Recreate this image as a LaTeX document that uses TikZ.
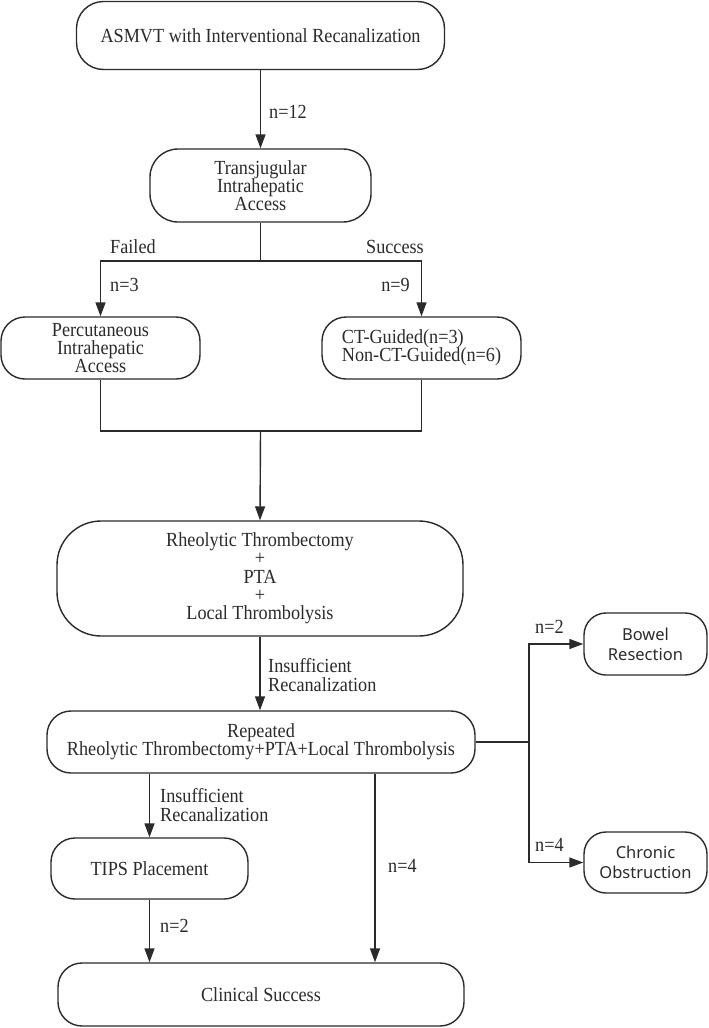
\documentclass[tikz,border=0pt]{standalone}
\usepackage{fontspec}
\setmainfont{Liberation Serif}[FakeStretch=0.91]
\newfontfamily\boxsans{Noto Sans}
\usetikzlibrary{arrows.meta}
\definecolor{ink}{HTML}{2B2B2B}
\begin{document}
\begin{tikzpicture}[x=1pt,y=-1pt,
  every node/.style={text=ink},
  box/.style={draw=ink,line width=1.4pt,align=center,inner sep=0pt,
    font=\fontsize{20}{18.3}\selectfont,rounded corners=24pt},
  sbox/.style={box,font=\boxsans\fontsize{16.5}{20}\selectfont,rounded corners=22pt},
  lbl/.style={inner sep=0pt,font=\fontsize{20}{18.3}\selectfont,align=left},
  ln/.style={draw=ink,line width=1.4pt},
  arr/.style={ln,-{Triangle[length=14pt,width=10pt]}}]
\useasboundingbox (0,0) rectangle (709,1028);
\fill[white] (0,0) rectangle (709,1028);
% nodes
\node[box,minimum width=368pt,minimum height=68pt,rounded corners=27pt] (top) at (260.5,35.5) {ASMVT with Interventional Recanalization};
\node[box,minimum width=221pt,minimum height=73pt,rounded corners=28pt] (tj) at (260.5,185.5) {Transjugular\\Intrahepatic\\Access};
\node[box,minimum width=199pt,minimum height=62pt] (perc) at (100.5,348) {Percutaneous\\Intrahepatic\\Access};
\node[box,minimum width=199pt,minimum height=62pt,align=left] (ct) at (421.5,348) {CT-Guided(n=3)\\Non-CT-Guided(n=6)};
\node[box,minimum width=406pt,minimum height=115pt,rounded corners=44pt] (rheo) at (260,578.5) {Rheolytic Thrombectomy\\+\\PTA\\+\\Local Thrombolysis};
\node[box,minimum width=428pt,minimum height=62pt] (rep) at (261,742) {Repeated\\Rheolytic Thrombectomy+PTA+Local Thrombolysis};
\node[sbox,minimum width=123pt,minimum height=62pt] (bowel) at (645.5,644) {Bowel\\Resection};
\node[sbox,minimum width=123pt,minimum height=61pt] (chron) at (645.5,862.5) {Chronic\\Obstruction};
\node[box,minimum width=197pt,minimum height=61pt] (tips) at (149.5,868.5) {TIPS Placement};
\node[box,minimum width=406pt,minimum height=63pt] (clin) at (261,994.5) {Clinical Success};
% junctions
\coordinate (j1) at (260.5,261);
\coordinate (j2) at (260.5,431);
\coordinate (j3) at (529,742);
\coordinate (j4) at (375,0);
% connectors
\draw[arr] (top.south) -- (tj.north);
\draw[ln] (tj.south) -- (j1);
\draw[arr] (j1) -| (perc.north);
\draw[arr] (j1) -| (ct.north);
\draw[ln] (perc.south) |- (j2);
\draw[ln] (ct.south) |- (j2);
\draw[arr] (j2) -- (rheo.north);
\draw[arr] (rheo.south) -- (rheo.south |- rep.north);
\draw[ln] (rep.east) -- (j3);
\draw[arr] (j3) |- (bowel.west);
\draw[arr] (j3) |- (chron.west);
\draw[arr] (rep.south -| tips.north) -- (tips.north);
\draw[arr] (tips.south) -- (clin.north -| tips.south);
\draw[arr] (rep.south -| j4) -- (clin.north -| j4);
% labels
\node[lbl,anchor=west] (l1) at (269,112) {n=12};
\node[lbl,anchor=west] (l2) at (110,247) {Failed};
\node[lbl,anchor=east] (l3) at (424,247) {Success};
\node[lbl,anchor=west] (l4) at (110,285) {n=3};
\node[lbl,anchor=east] (l5) at (410,285) {n=9};
\node[lbl,anchor=west] (l6) at (268,675) {Insufficient\\Recanalization};
\node[lbl,anchor=west] (l7) at (160,805) {Insufficient\\Recanalization};
\node[lbl,anchor=west] (l8) at (388,866) {n=4};
\node[lbl,anchor=west] (l9) at (160,926) {n=2};
\node[lbl,anchor=west] (l10) at (535,627) {n=2};
\node[lbl,anchor=west] (l11) at (535,845) {n=4};
\end{tikzpicture}
\end{document}
